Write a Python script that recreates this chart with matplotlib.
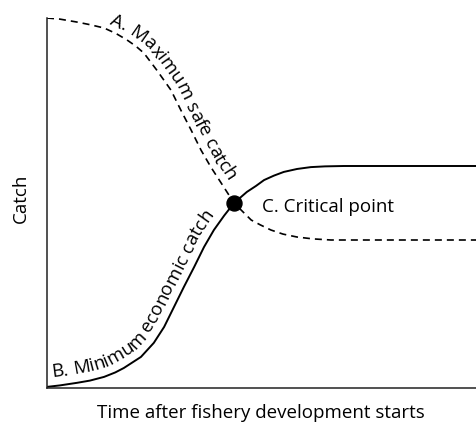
import numpy as np
import matplotlib
matplotlib.use("Agg")
import matplotlib.pyplot as plt
from matplotlib.font_manager import FontProperties
from matplotlib.transforms import IdentityTransform

plt.rcParams['font.family'] = ['Open Sans', 'DejaVu Sans']

# Minimum economic catch (solid, sigmoid rise)
time_solid = [0.00, 0.30, 0.70, 1.00, 1.33, 1.59, 1.79, 2.19, 2.49, 2.73, 2.96, 3.19,
              3.43, 3.66, 3.89, 4.13, 4.36, 4.66, 4.87, 5.06, 5.29, 5.52, 5.83, 6.15,
              6.48, 6.92, 10.0]
min_economic_catch = [0.03, 0.07, 0.14, 0.20, 0.30, 0.42, 0.54, 0.84, 1.22, 1.65, 2.19, 2.73,
                      3.27, 3.81, 4.27, 4.66, 5.00, 5.30, 5.46, 5.62, 5.74, 5.84, 5.92, 5.97,
                      5.99, 6.00, 6.00]

# Maximum safe catch (dashed, decline)
time_dashed = [0.00, 0.30, 0.70, 1.00, 1.33, 1.61, 1.86, 2.07, 2.26, 2.56, 2.89, 3.12,
               3.36, 3.59, 3.82, 4.06, 4.36, 4.76, 4.97, 5.22, 5.50, 5.83, 6.20, 6.62, 10.0]
max_safe_catch = [10.0, 9.97, 9.89, 9.82, 9.73, 9.58, 9.41, 9.24, 9.05, 8.59, 8.05, 7.51,
                  6.97, 6.43, 5.97, 5.54, 5.00, 4.54, 4.41, 4.27, 4.16, 4.08, 4.03, 4.00, 4.00]

critical_time, critical_catch = 4.36, 5.00

label_a = "A. Maximum safe catch"
label_b = "B. Minimum economic catch"
label_c = "C. Critical point"

FS = 13.5
fp = FontProperties(family=['Open Sans', 'DejaVu Sans'], size=FS)

fig = plt.figure(figsize=(4.76, 4.28), dpi=100)
ax = fig.add_axes([47 / 476, 40 / 428, 429 / 476, 370 / 428])
ax.set_xlim(0, 10)
ax.set_ylim(0, 10)

ax.plot(time_dashed, max_safe_catch, color='black', lw=1.2, dashes=(4.2, 3.0),
        dash_capstyle='butt')
ax.plot(time_solid, min_economic_catch, color='black', lw=1.4)
ax.plot([critical_time], [critical_catch], 'o', color='black', ms=10.8, zorder=5)

for side in ['top', 'right']:
    ax.spines[side].set_visible(False)
for side in ['left', 'bottom']:
    ax.spines[side].set_linewidth(1.1)
    ax.spines[side].set_color('#222222')
ax.set_xticks([])
ax.set_yticks([])

ax.set_xlabel('Time after fishery development starts', fontsize=FS, va='center')
ax.xaxis.set_label_coords((261 - 47) / 429, (388 - 413) / 370)
ax.set_ylabel('Catch', fontsize=FS, va='center')
ax.yaxis.set_label_coords((21 - 47) / 429, (388 - 198) / 370)

ax.annotate(label_c, xy=(critical_time, critical_catch), xytext=(28, -8.5),
            textcoords='offset pixels', fontproperties=fp, ha='left', va='baseline')


def text_along_curve(xs, ys, label, x_start_px, offset_px):
    """Place label character by character along the curve, on its left-hand side."""
    renderer = fig.canvas.get_renderer()
    pts = ax.transData.transform(np.column_stack([xs, ys]))
    seg = np.hypot(*np.diff(pts, axis=0).T)
    cum = np.concatenate([[0], np.cumsum(seg)])
    s = np.arange(0, cum[-1], 0.5)
    px = np.interp(s, cum, pts[:, 0])
    py = np.interp(s, cum, pts[:, 1])
    tx = np.gradient(px)
    ty = np.gradient(py)
    k = np.ones(41) / 41
    tx = np.convolve(np.pad(tx, 20, mode='edge'), k, mode='valid')
    ty = np.convolve(np.pad(ty, 20, mode='edge'), k, mode='valid')
    n = np.hypot(tx, ty)
    tx, ty = tx / n, ty / n
    ox = px - ty * offset_px
    oy = py + tx * offset_px
    oseg = np.hypot(np.diff(ox), np.diff(oy))
    ocum = np.concatenate([[0], np.cumsum(oseg)])
    x0_disp = ax.transData.transform((0, 0))[0] + x_start_px
    s0 = np.interp(x0_disp, ox, ocum)

    ref = renderer.get_text_width_height_descent('l', fp, ismath=False)[0]
    widths = [0.0]
    for i in range(1, len(label) + 1):
        w = renderer.get_text_width_height_descent(label[:i] + 'l', fp, ismath=False)[0]
        widths.append(w - ref)
    for i, ch in enumerate(label):
        if ch == ' ':
            continue
        sc = s0 + 0.5 * (widths[i] + widths[i + 1])
        cx = np.interp(sc, ocum, ox)
        cy = np.interp(sc, ocum, oy)
        dx = np.interp(sc + 5, ocum, ox) - np.interp(sc - 5, ocum, ox)
        dy = np.interp(sc + 5, ocum, oy) - np.interp(sc - 5, ocum, oy)
        ang = np.degrees(np.arctan2(dy, dx))
        fig.text(cx, cy, ch, transform=IdentityTransform(), fontproperties=fp,
                 rotation=ang, rotation_mode='anchor', ha='center', va='baseline')


fig.canvas.draw()
text_along_curve(time_dashed, max_safe_catch, label_a, 62, 6)
text_along_curve(time_solid, min_economic_catch, label_b, 5, 9)

fig.savefig('out.png', dpi=100)
